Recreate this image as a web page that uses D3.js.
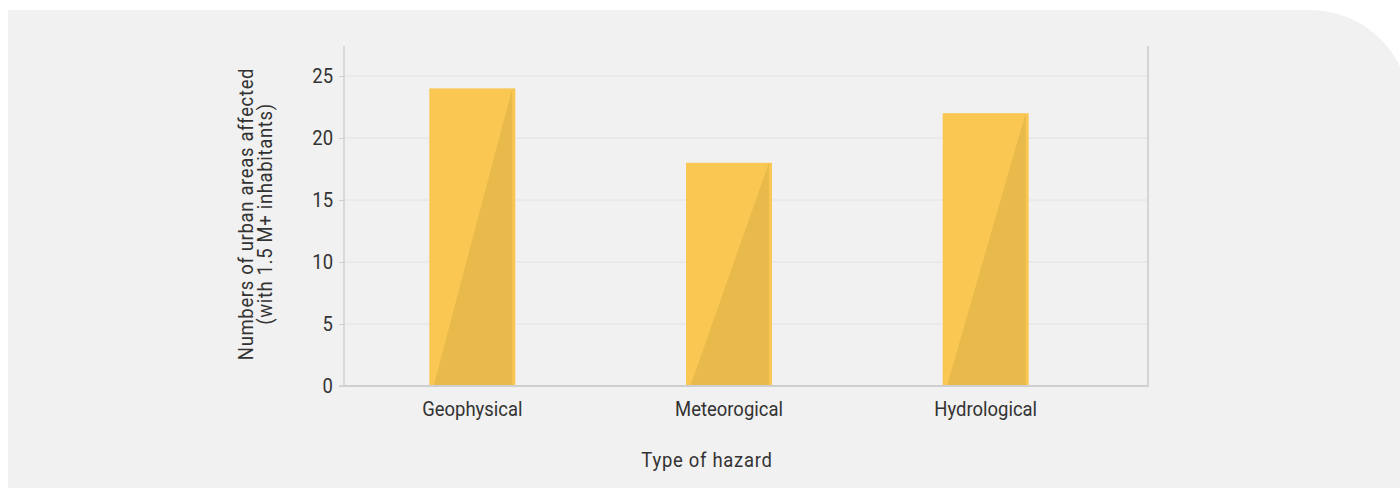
<!DOCTYPE html>
<html>
<head>
<meta charset="utf-8">
<script src="https://cdn.jsdelivr.net/npm/d3@7"></script>
<style>
  html, body { margin: 0; padding: 0; background: #ffffff; }
  svg { display: block; }
  text { font-family: Roboto, "Noto Sans", sans-serif; fill: #333; }
</style>
</head>
<body>
<svg id="chart" width="1400" height="488"></svg>
<script>
// Hazard categories and counts of large urban areas affected
const categories = ["Geophysical", "Meteorogical", "Hydrological"];
const values = [24, 18, 22];
const yTicks = [0, 5, 10, 15, 20, 25];
const yTitleLines = ["Numbers of urban areas affected", "(with 1.5 M+ inhabitants)"];
const xTitle = "Type of hazard";

const W = 1400, H = 488;
const plot = { left: 344, right: 1148, top: 46, bottom: 386 };
const FS = 20.5;      // label font size
const NARROW = 0.9;   // horizontal squeeze for a condensed look

const svg = d3.select("#chart");

// Background panel with a rounded top-right corner
const px = 8, py = 10, pr = 100, pRight = 1410;
svg.append("path")
  .attr("d", `M${px},${py} H${pRight - pr} A${pr},${pr} 0 0 1 ${pRight},${py + pr} V${H + 20} H${px} Z`)
  .attr("fill", "#f1f1f1");

const x = d3.scaleBand()
  .domain(categories)
  .range([plot.left, 1114])
  .paddingInner(0.665)
  .paddingOuter(0.3325);

const y = d3.scaleLinear()
  .domain([0, 27.42])
  .range([plot.bottom, plot.top]);

// Horizontal gridlines
svg.append("g")
  .selectAll("line")
  .data(yTicks.filter(d => d > 0))
  .join("line")
  .attr("x1", plot.left)
  .attr("x2", plot.right)
  .attr("y1", d => y(d))
  .attr("y2", d => y(d))
  .attr("stroke", "#e2e2e2")
  .attr("stroke-width", 1);

// Right frame line
svg.append("line")
  .attr("x1", plot.right).attr("x2", plot.right)
  .attr("y1", plot.top).attr("y2", plot.bottom + 1)
  .attr("stroke", "#d4d4d4").attr("stroke-width", 2);

// Y axis
const yAxis = d3.axisLeft(y).tickValues(yTicks).tickSize(5).tickPadding(6);
const gy = svg.append("g")
  .attr("transform", `translate(${plot.left},0)`)
  .call(yAxis);
gy.select(".domain").attr("stroke", "#cfcfcf").attr("stroke-width", 1.5)
  .attr("d", `M-5,${y(0)}H0V${plot.top}`);
gy.selectAll(".tick line").attr("stroke", "#cfcfcf");
gy.selectAll(".tick text")
  .attr("font-size", FS)
  .attr("fill", "#333")
  .attr("x", -11 / NARROW)
  .attr("transform", `scale(${NARROW},1)`)
  .style("font-family", "Roboto, sans-serif");

// Bars: base colour plus a darker diagonal facet
const bars = svg.append("g").selectAll("g")
  .data(categories.map((c, i) => ({ c, v: values[i] })))
  .join("g");

bars.append("rect")
  .attr("x", d => x(d.c))
  .attr("y", d => y(d.v))
  .attr("width", x.bandwidth())
  .attr("height", d => y(0) - y(d.v) + 1)
  .attr("fill", "#f9c752");

bars.append("path")
  .attr("d", d => {
    const x0 = x(d.c), x1 = x0 + x.bandwidth();
    const yt = y(d.v), yb = y(0) + 1;
    return `M${x0 + 4},${yb} L${x1 - 3},${yt} L${x1 - 3},${yb} Z`;
  })
  .attr("fill", "#e8b94b");

// Baseline
svg.append("line")
  .attr("x1", plot.left).attr("x2", plot.right)
  .attr("y1", y(0)).attr("y2", y(0))
  .attr("stroke", "#cfcfcf").attr("stroke-width", 2);

// X axis labels
const xAxis = d3.axisBottom(x).tickSize(0).tickPadding(15);
const gx = svg.append("g")
  .attr("transform", `translate(0,${plot.bottom})`)
  .call(xAxis);
gx.select(".domain").remove();
gx.selectAll(".tick text")
  .attr("font-size", FS)
  .attr("fill", "#333")
  .attr("transform", `scale(${NARROW},1)`)
  .style("font-family", "Roboto, sans-serif");

// Axis titles
const yt = svg.append("text")
  .attr("transform", `translate(253,214) rotate(-90) scale(${NARROW},1)`)
  .attr("text-anchor", "middle")
  .attr("font-size", FS)
  .attr("letter-spacing", 0.75);
yt.selectAll("tspan")
  .data(yTitleLines)
  .join("tspan")
  .attr("x", 0)
  .attr("dy", (d, i) => i === 0 ? 0 : 19)
  .text(d => d);

svg.append("text")
  .attr("transform", `translate(707,467) scale(${NARROW},1)`)
  .attr("text-anchor", "middle")
  .attr("font-size", FS)
  .attr("letter-spacing", 0.8)
  .text(xTitle);
</script>
</body>
</html>
